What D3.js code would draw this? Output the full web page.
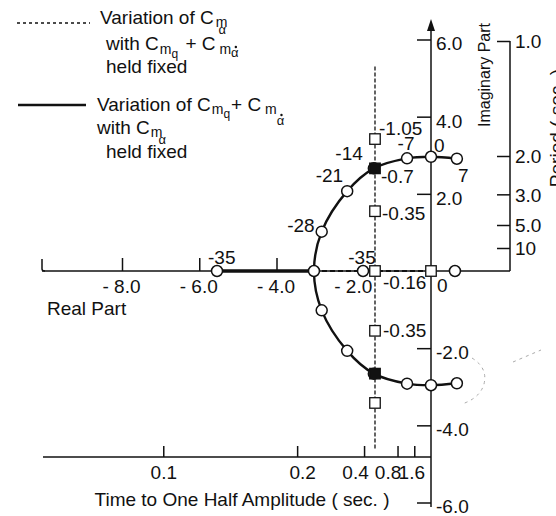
<!DOCTYPE html>
<html><head><meta charset="utf-8">
<script src="https://cdn.jsdelivr.net/npm/d3@7"></script>
<style>
body{margin:0;background:#fff}
svg{display:block}
text{font-family:"Liberation Sans",Arial,Helvetica,sans-serif;fill:#111}
</style>
</head><body>
<svg id="c" width="556" height="516"></svg>
<script>
// ---------- data ----------
const realTicks = [-8, -6, -4];
const realLabelValues = [-8, -6, -4, -2];
const realTickLabels = ["- 8.0", "- 6.0", "- 4.0", "- 2.0"];
const imagTicks = [6, 4, 2, -2, -4, -6];
const imagTickLabels = ["6.0", "4.0", "2.0", "-2.0", "-4.0", "-6.0"];
const periodTicks = [1.0, 2.0, 3.0, 5.0, 10];
const periodTickLabels = ["1.0", "2.0", "3.0", "5.0", "10"];
const halfTimeTicks = [0.1, 0.2, 0.4, 0.8, 1.6];
const halfTimeTickLabels = ["0.1", "0.2", "0.4", "0.8", "1.6"];

// solid locus: variation of Cmq + Cmα̇ (upper half; lower half = conjugate)
const cmqLabels = ["7", "0", "-7", "-14", "-21", "-28"];
const cmqRe = [0.67, 0.0, -0.62, -1.48, -2.17, -2.83];
const cmqIm = [2.91, 2.96, 2.92, 2.66, 2.07, 1.02];
const breakawayRe = -3.03;
const realBranchLabels = ["-35", "-35"];
const realBranchRe = [-5.54, -1.76];
const extraRealRe = [0.62];

// dashed locus: variation of Cmα
const cmaLabels = ["-1.05", "-0.7", "-0.35", "-0.16", "0"];
const cmaRe = [-1.45, -1.45, -1.45, -1.45, 0];
const cmaIm = [3.42, 2.66, 1.55, 0, 0];
const cmaFilled = [false, true, false, false, false];
const cmaLowerLabels = ["-0.35"];
const cmaLineIm = [5.3, -4.6];

// ---------- layout ----------
const ink = "#111";
const svg = d3.select("#c");
const x = d3.scaleLinear().domain([-8, 0]).range([122, 431]);
const y = d3.scaleLinear().domain([-6, 6]).range([502.5, 39.5]);
const fy = d3.scaleLinear().domain([0, 1]).range([y(0), 41]); // 1/period
const y0 = y(0), x0 = x(0), px = 510;

function styleAxis(g) {
  g.attr("font-family", null).attr("font-size", null);
  g.selectAll(".domain").remove();
  g.selectAll("line").attr("stroke", ink).attr("stroke-width", 1.5);
  g.selectAll("text").attr("fill", ink).attr("font-size", 19);
}

// real axis
svg.append("line").attr("x1", 42).attr("x2", px).attr("y1", y0).attr("y2", y0)
  .attr("stroke", ink).attr("stroke-width", 1.5);
svg.append("path").attr("d", `M42,${y0 - 12} L42,${y0 - 2} Q42,${y0} 45,${y0}`)
  .attr("fill", "none").attr("stroke", ink).attr("stroke-width", 1.5);
svg.append("g").attr("transform", `translate(0,${y0})`)
  .call(d3.axisBottom(x).tickValues(realTicks).tickSize(-13).tickFormat(""))
  .call(styleAxis);
svg.append("g").attr("transform", `translate(0,${y0})`)
  .call(d3.axisBottom(x).tickValues(realLabelValues).tickSize(0).tickPadding(9)
    .tickFormat((d, i) => realTickLabels[i]))
  .call(styleAxis)
  .selectAll("text").attr("dx", -1);
svg.append("text").attr("x", 47).attr("y", 315).attr("font-size", 19).text("Real Part");

// imaginary axis
svg.append("line").attr("x1", x0).attr("x2", x0).attr("y1", 26).attr("y2", 507)
  .attr("stroke", ink).attr("stroke-width", 1.5);
svg.append("path").attr("d", `M${x0},19 L${x0 + 4},31 L${x0 - 4},31 Z`).attr("fill", ink);
svg.append("g").attr("transform", `translate(${x0},0)`)
  .call(d3.axisRight(y).tickValues(imagTicks).tickSize(-14).tickPadding(5)
    .tickFormat((d, i) => imagTickLabels[i]))
  .call(styleAxis)
  .selectAll("text").attr("dy", "0.55em");
svg.append("text").attr("transform", "translate(490,75) rotate(-90)")
  .attr("text-anchor", "middle").attr("font-size", 16).text("Imaginary Part");

// period axis
svg.append("line").attr("x1", px).attr("x2", px).attr("y1", fy(1)).attr("y2", y0)
  .attr("stroke", ink).attr("stroke-width", 1.5);
svg.append("g").attr("transform", `translate(${px},0)`)
  .call(d3.axisRight(fy).tickValues(periodTicks.map(T => 1 / T)).tickSize(-13).tickPadding(5)
    .tickFormat((d, i) => periodTickLabels[i]))
  .call(styleAxis)
  .selectAll("text").attr("dy", "0.36em");
svg.append("text").attr("transform", "translate(563,128) rotate(-90)")
  .attr("text-anchor", "middle").attr("font-size", 19).text("Period ( sec. )");

// time to half amplitude axis
const hy = 457;
const halfNudge = [0, 5, -9, -10, -3];
svg.append("line").attr("x1", 43).attr("x2", x0).attr("y1", hy).attr("y2", hy)
  .attr("stroke", ink).attr("stroke-width", 1.5);
svg.append("g").attr("transform", `translate(0,${hy})`)
  .call(d3.axisBottom(x).tickValues(halfTimeTicks.map(t => -Math.LN2 / t)).tickSize(-11).tickPadding(9)
    .tickFormat((d, i) => halfTimeTickLabels[i]))
  .call(styleAxis)
  .selectAll("text").attr("dx", (d, i) => halfNudge[i]);
svg.append("text").attr("x", 242).attr("y", 506).attr("text-anchor", "middle")
  .attr("font-size", 19).text("Time to One Half Amplitude ( sec. )");

// faint scan mark at right (as in the reference)
svg.append("path").attr("d", "M472,358 Q488,368 484,384 Q480,398 462,404 M513,362 L541,350")
  .attr("fill", "none").attr("stroke", "#aaa").attr("stroke-width", 1).attr("stroke-dasharray", "3,4");

// ---------- loci ----------
svg.append("line").attr("x1", x(cmaRe[0])).attr("x2", x(cmaRe[0]))
  .attr("y1", y(cmaLineIm[0])).attr("y2", y(cmaLineIm[1]))
  .attr("stroke", ink).attr("stroke-width", 1.3).attr("stroke-dasharray", "4,2");
svg.append("line").attr("x1", x(breakawayRe)).attr("x2", x(0)).attr("y1", y0).attr("y2", y0)
  .attr("stroke", ink).attr("stroke-width", 2.2).attr("stroke-dasharray", "5,3");

const upper = cmqRe.map((r, i) => [r, cmqIm[i]]);
const lower = upper.map(([r, im]) => [r, -im]).reverse();
const circPts = [...upper, [breakawayRe, 0], ...lower];
svg.append("path").datum(circPts)
  .attr("d", d3.line().x(d => x(d[0])).y(d => y(d[1])).curve(d3.curveCatmullRom.alpha(0.5)))
  .attr("fill", "none").attr("stroke", ink).attr("stroke-width", 2.4);
svg.append("line").attr("x1", x(realBranchRe[0])).attr("x2", x(breakawayRe)).attr("y1", y0).attr("y2", y0)
  .attr("stroke", ink).attr("stroke-width", 3.4);

const circMarks = [...upper, ...lower, [breakawayRe, 0], ...realBranchRe.map(r => [r, 0]), ...extraRealRe.map(r => [r, 0])];
svg.append("g").selectAll("circle").data(circMarks).join("circle")
  .attr("cx", d => x(d[0])).attr("cy", d => y(d[1])).attr("r", 5.5)
  .attr("fill", "#fff").attr("stroke", ink).attr("stroke-width", 1.5);

const sq = cmaRe.map((r, i) => ({ r, im: cmaIm[i], f: cmaFilled[i] }));
const sqAll = [...sq, ...sq.filter(d => d.im > 0).map(d => ({ r: d.r, im: -d.im, f: d.f }))];
const S = 10.5;
svg.append("g").selectAll("rect").data(sqAll).join("rect")
  .attr("x", d => x(d.r) - S / 2).attr("y", d => y(d.im) - S / 2)
  .attr("width", S).attr("height", S)
  .attr("fill", d => d.f ? ink : "#fff").attr("stroke", ink).attr("stroke-width", 1.3);

// ---------- point labels ----------
const cmqOff = [[1, 23, "start"], [3, -5, "start"], [-1, -8, "middle"], [-11, -8, "end"], [-4, -9, "end"], [-7, 0, "end"]];
cmqLabels.forEach((t, i) => {
  const o = cmqOff[i];
  svg.append("text").attr("x", x(cmqRe[i]) + o[0]).attr("y", y(cmqIm[i]) + o[1])
    .attr("text-anchor", o[2]).attr("font-size", 19).text(t);
});
const rbOff = [[-9, -7, "start"], [-1, -7, "middle"]];
realBranchLabels.forEach((t, i) => {
  const o = rbOff[i];
  svg.append("text").attr("x", x(realBranchRe[i]) + o[0]).attr("y", y0 + o[1])
    .attr("text-anchor", o[2]).attr("font-size", 19).text(t);
});
const cmaOff = [[4, -4], [6, 15], [7, 9], [8, 18], [6, 21]];
cmaLabels.forEach((t, i) => {
  const o = cmaOff[i];
  svg.append("text").attr("x", x(cmaRe[i]) + o[0]).attr("y", y(cmaIm[i]) + o[1])
    .attr("font-size", 19).text(t);
});
cmaLowerLabels.forEach(t => {
  const i = cmaLabels.indexOf(t);
  svg.append("text").attr("x", x(cmaRe[i]) + 8).attr("y", y(-cmaIm[i]) + 6)
    .attr("font-size", 19).text(t);
});

// ---------- legend ----------
function rich(x0, yb, segs) {
  let cx = x0;
  segs.forEach(s => {
    const fs = s.fs || 19, dx = s.dx || 0, dy = s.dy || 0;
    const t = svg.append("text").attr("x", cx + dx).attr("y", yb + dy).attr("font-size", fs)
      .attr("xml:space", "preserve").style("white-space", "pre").text(s.t);
    const w = t.node().getComputedTextLength();
    if (s.dot) {
      svg.append("circle").attr("cx", cx + dx + w / 2 + 1).attr("cy", yb + dy - 10).attr("r", 1.2).attr("fill", ink);
    }
    cx = cx + dx + w;
  });
}
svg.append("line").attr("x1", 17).attr("x2", 90).attr("y1", 23).attr("y2", 23)
  .attr("stroke", ink).attr("stroke-width", 1.5).attr("stroke-dasharray", "3,3");
rich(100, 24, [{ t: "Variation of C" }, { t: "m", fs: 14, dy: 3, dx: 2 }, { t: "α", fs: 13, dy: 10, dx: -9 }]);
rich(106, 50, [{ t: "with C" }, { t: "m", fs: 14, dy: 4, dx: 1 }, { t: "q", fs: 12, dy: 8 },
  { t: " + C", dx: 2 }, { t: " m", fs: 14, dy: 4 }, { t: "α", fs: 13, dy: 7, dot: true }]);
rich(106, 73, [{ t: "held fixed" }]);

svg.append("line").attr("x1", 18).attr("x2", 86).attr("y1", 105).attr("y2", 105)
  .attr("stroke", ink).attr("stroke-width", 2.5);
rich(97, 111, [{ t: "Variation of C" }, { t: "m", fs: 14, dy: 3, dx: 1 }, { t: "q", fs: 12, dy: 7 },
  { t: "+ C", dx: 1 }, { t: " m", fs: 14, dy: 3 }, { t: "α", fs: 13, dy: 14, dot: true }]);
rich(97, 134, [{ t: "with C" }, { t: "m", fs: 14, dy: 3, dx: 1 }, { t: "α", fs: 13, dy: 10, dx: -4 }]);
rich(106, 158, [{ t: "held fixed" }]);
</script>
</body></html>
